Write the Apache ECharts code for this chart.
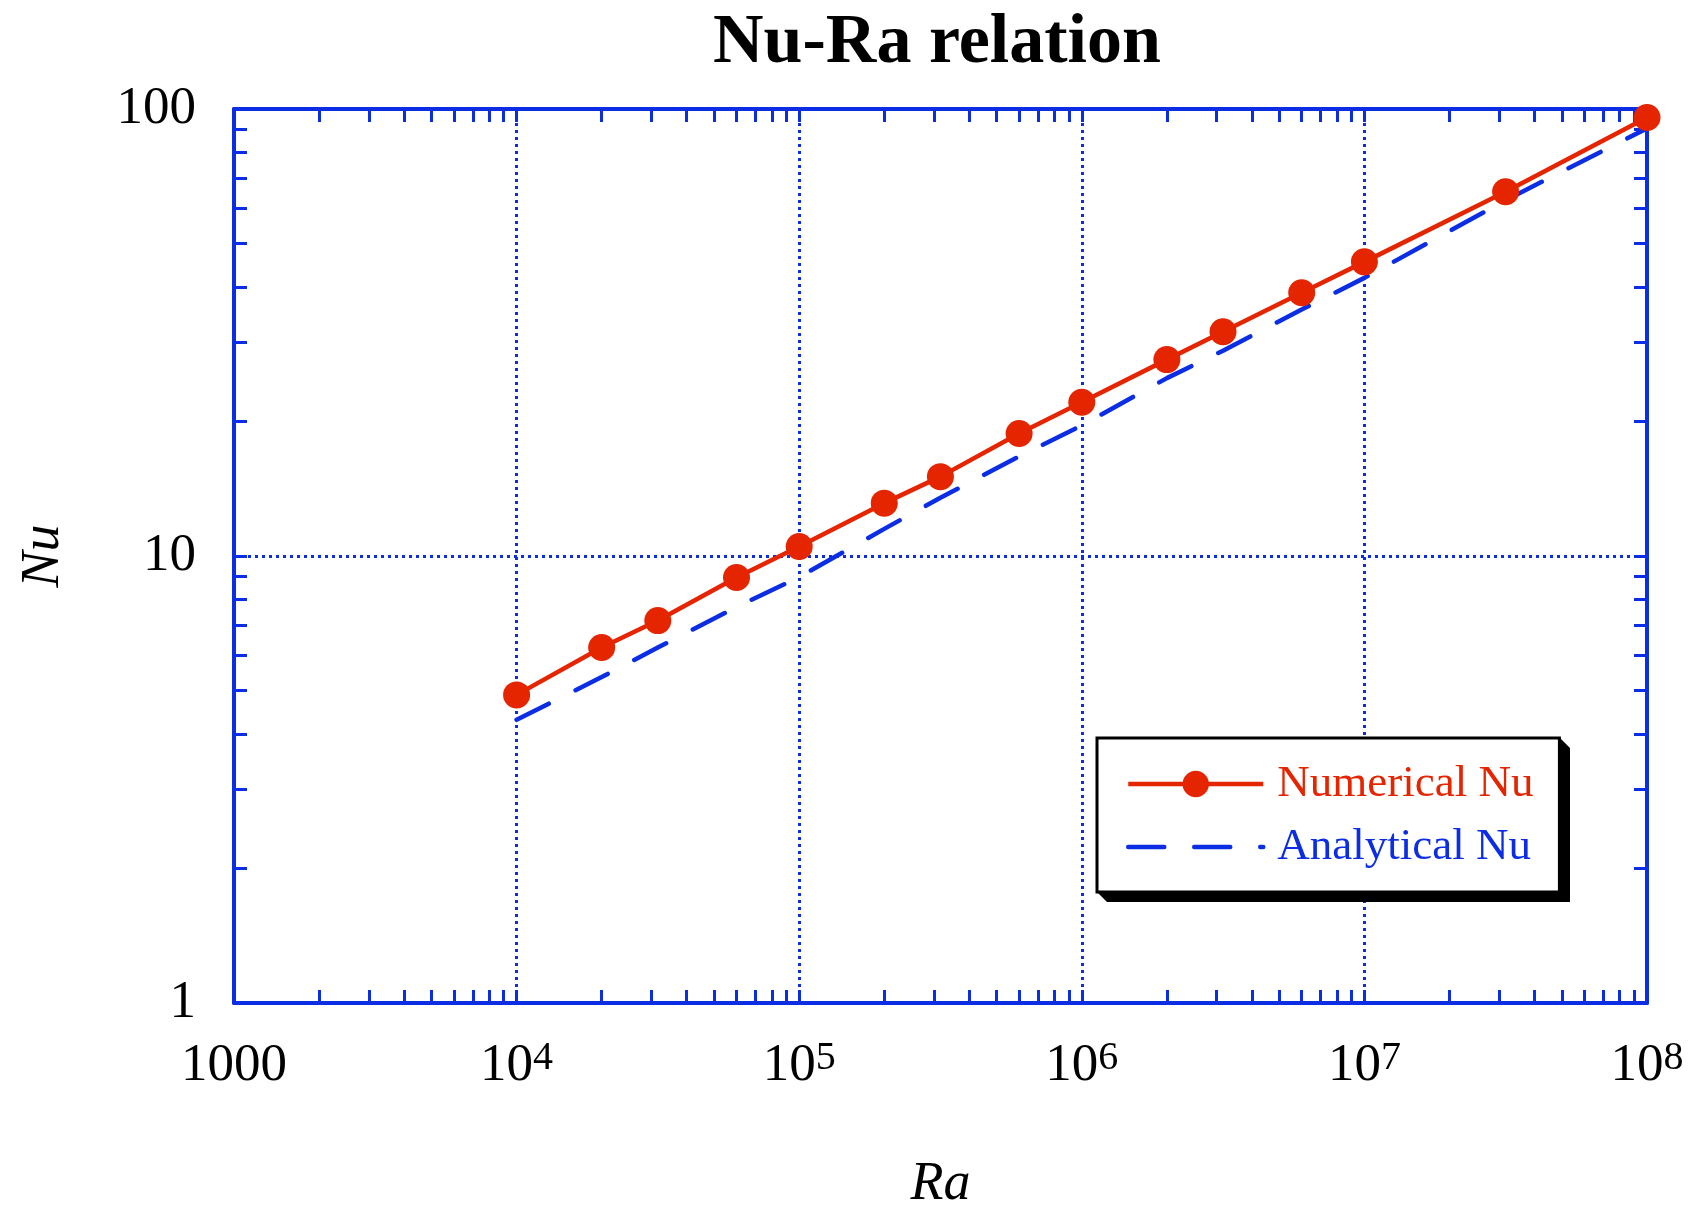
<!DOCTYPE html>
<html>
<head>
<meta charset="utf-8">
<title>Nu-Ra relation</title>
<script src="https://cdn.jsdelivr.net/npm/echarts@6/dist/echarts.min.js"></script>
<style>
  html, body { margin: 0; padding: 0; background: #ffffff; }
  #chart { width: 1690px; height: 1211px; }
</style>
</head>
<body>
<div id="chart"></div>
<script>
// Rayleigh numbers of the computed cases
const raValues = [1e4, 2e4, 31600, 6e4, 1e5, 2e5, 316000, 6e5, 1e6, 2e6, 3160000, 6e6, 1e7, 31600000, 1e8];
// Nusselt number from the simulation
const nuNumerical = [4.89, 6.24, 7.17, 8.95, 10.5, 13.13, 15.05, 18.8, 22.07, 27.5, 31.75, 38.8, 45.5, 65.3, 95.7];
// Nusselt number from the analytical correlation
const nuAnalytical = [4.30, 5.36, 6.24, 7.69, 8.97, 11.5, 13.5, 16.7, 19.6, 25.0, 28.8, 35.6, 41.9, 62.5, 90.5];

// Tick positions (1..9 per decade) on the logarithmic axes
const raTicks = [];
for (let e = 3; e < 8; e++) {
  for (let m = 1; m <= 9; m++) raTicks.push(m * Math.pow(10, e));
}
const nuTicks = [2, 3, 4, 5, 6, 7, 8, 9, 10, 20, 30, 40, 50, 60, 70, 80, 90];

const BLUE = '#0b2de3';
const RED = '#e52400';
const FONT = '"Liberation Serif", "Times New Roman", serif';

const numericalSeries = raValues.map((ra, i) => [ra, nuNumerical[i]]);
const analyticalSeries = raValues.map((ra, i) => [ra, nuAnalytical[i]]);

const tickStyle = { show: true, inside: true, length: 13, lineStyle: { color: BLUE, width: 3 } };
const frameLine = { show: true, lineStyle: { color: BLUE, width: 4 } };
const gridLine = { show: true, lineStyle: { color: BLUE, width: 3, type: [3, 4] } };

function raLabel(v) {
  const e = Math.round(Math.log10(v));
  if (e === 3) return '{b|1000}';
  return '{b|10}{s|' + e + '}';
}

// Legend box geometry (used for its drop shadow)
const LEG_X = 1097, LEG_Y = 738, LEG_W = 463, LEG_H = 154, SHADOW = 10;

const chart = echarts.init(document.getElementById('chart'), null, { renderer: 'canvas' });

chart.setOption({
  backgroundColor: '#ffffff',
  animation: false,
  graphic: [{
    type: 'text',
    x: 937,
    y: 44,
    z: 20,
    style: {
      text: 'Nu-Ra relation',
      font: 'bold 70px ' + FONT,
      fill: '#000000',
      align: 'center',
      verticalAlign: 'middle'
    }
  }, {
    // bevelled drop shadow behind the legend box
    type: 'polygon',
    z: 9,
    shape: {
      points: [
        [LEG_X, LEG_Y], [LEG_X + LEG_W, LEG_Y],
        [LEG_X + LEG_W + SHADOW, LEG_Y + SHADOW],
        [LEG_X + LEG_W + SHADOW, LEG_Y + LEG_H + SHADOW],
        [LEG_X + SHADOW, LEG_Y + LEG_H + SHADOW],
        [LEG_X, LEG_Y + LEG_H]
      ]
    },
    style: { fill: '#000000' }
  }],
  grid: {
    left: 234, top: 109, width: 1413, height: 894,
    containLabel: false,
    outerBoundsMode: 'none'
  },
  xAxis: [{
    type: 'log',
    logBase: 10,
    min: 1000,
    max: 1e8,
    position: 'bottom',
    name: 'Ra',
    nameLocation: 'middle',
    nameGap: 155,
    nameTextStyle: { fontFamily: FONT, fontStyle: 'italic', fontSize: 54, color: '#000' },
    axisLine: frameLine,
    axisTick: Object.assign({ customValues: raTicks }, tickStyle),
    splitLine: { show: false },
    axisLabel: {
      show: true,
      margin: 35,
      showMinLabel: true,
      showMaxLabel: true,
      formatter: raLabel,
      rich: {
        b: { fontFamily: FONT, fontSize: 53, color: '#000', lineHeight: 56 },
        s: { fontFamily: FONT, fontSize: 40, color: '#000', verticalAlign: 'top', lineHeight: 38 }
      }
    }
  }, {
    type: 'log',
    logBase: 10,
    min: 1000,
    max: 1e8,
    position: 'top',
    axisLine: frameLine,
    axisTick: Object.assign({ customValues: raTicks }, tickStyle),
    axisLabel: { show: false },
    splitLine: { show: false }
  }, {
    // dotted grid at each decade of Ra
    type: 'log',
    logBase: 10,
    min: 1000,
    max: 1e8,
    position: 'bottom',
    axisLine: { show: false },
    axisTick: { show: false },
    axisLabel: { show: false },
    splitLine: gridLine
  }],
  yAxis: [{
    type: 'log',
    logBase: 10,
    min: 1,
    max: 100,
    position: 'left',
    name: 'Nu',
    nameLocation: 'middle',
    nameGap: 163,
    nameRotate: 90,
    nameTextStyle: { fontFamily: FONT, fontStyle: 'italic', fontSize: 54, color: '#000' },
    axisLine: frameLine,
    axisTick: Object.assign({ customValues: nuTicks }, tickStyle),
    splitLine: { show: false },
    axisLabel: {
      show: true,
      margin: 38,
      showMinLabel: true,
      showMaxLabel: true,
      fontFamily: FONT,
      fontSize: 53,
      color: '#000'
    }
  }, {
    type: 'log',
    logBase: 10,
    min: 1,
    max: 100,
    position: 'right',
    axisLine: frameLine,
    axisTick: Object.assign({ customValues: nuTicks }, tickStyle),
    axisLabel: { show: false },
    splitLine: { show: false }
  }, {
    // dotted grid at each decade of Nu
    type: 'log',
    logBase: 10,
    min: 1,
    max: 100,
    position: 'left',
    axisLine: { show: false },
    axisTick: { show: false },
    axisLabel: { show: false },
    splitLine: gridLine
  }],
  legend: {
    orient: 'vertical',
    left: LEG_X,
    top: LEG_Y,
    z: 10,
    padding: [21, 26, 20, 29],
    itemGap: 13,
    itemWidth: 135,
    itemHeight: 33,
    backgroundColor: '#ffffff',
    borderColor: '#000000',
    borderWidth: 3,
    borderRadius: 0,
    selectedMode: false,
    lineStyle: { width: 4.5 },
    textStyle: { fontFamily: FONT, fontSize: 45, lineHeight: 50, padding: [0, 0, 0, 9] },
    data: [
      { name: 'Numerical Nu', textStyle: { color: RED } },
      { name: 'Analytical Nu', textStyle: { color: BLUE }, itemStyle: { opacity: 0 } }
    ]
  },
  series: [{
    name: 'Analytical Nu',
    type: 'line',
    xAxisIndex: 0,
    yAxisIndex: 0,
    data: analyticalSeries,
    symbol: 'none',
    color: BLUE,
    lineStyle: { color: BLUE, width: 4.5, type: [36, 30], cap: 'round' },
    z: 3
  }, {
    name: 'Numerical Nu',
    type: 'line',
    xAxisIndex: 0,
    yAxisIndex: 0,
    data: numericalSeries,
    symbol: 'circle',
    symbolSize: 27,
    color: RED,
    itemStyle: { color: RED },
    lineStyle: { color: RED, width: 4.5 },
    z: 4
  }]
});
</script>
</body>
</html>
